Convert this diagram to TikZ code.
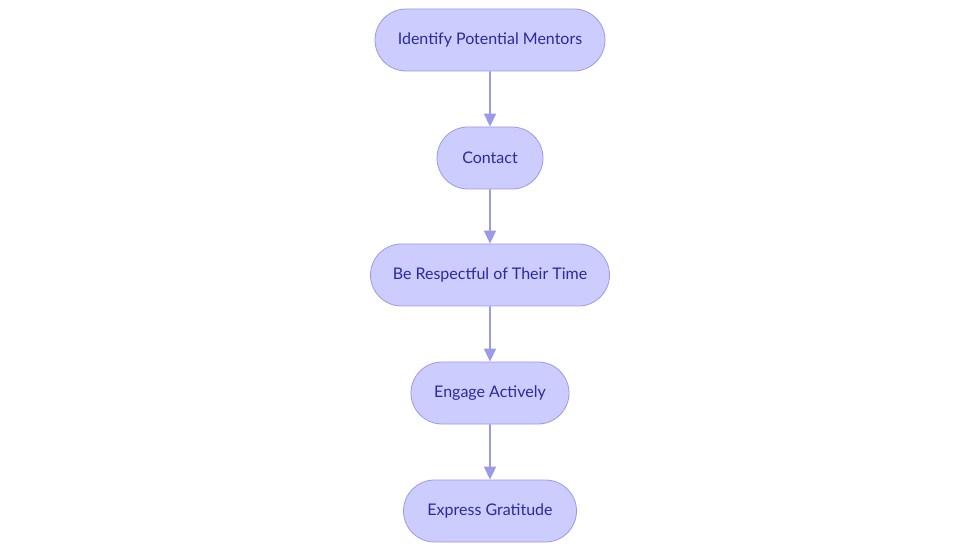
\documentclass[tikz,border=0pt]{standalone}
\usepackage{fontspec}
\setmainfont{Lato}
\usetikzlibrary{arrows.meta,shapes.misc}
\definecolor{nodefill}{HTML}{CCCCFF}
\definecolor{nodeedge}{HTML}{9A9AE8}
\definecolor{nodetext}{HTML}{2A2A9C}
\definecolor{linkcol}{HTML}{9A9AE8}
\tikzset{
  stadium/.style={rounded rectangle, draw=nodeedge, fill=nodefill, line width=0.8pt,
    minimum height=62pt, inner xsep=0pt, text=nodetext, font=\fontsize{16}{19}\selectfont},
  link/.style={draw=linkcol, line width=1.6pt, -{Triangle[width=12pt,length=13pt]}}
}
\begin{document}
\begin{tikzpicture}[x=1pt,y=-1pt]
\useasboundingbox (0,0) rectangle (980,553);
\node[stadium, minimum width=230pt] (a) at (490,40) {Identify Potential Mentors};
\node[stadium, minimum width=106pt] (b) at (490,158) {Contact};
\node[stadium, minimum width=239pt] (c) at (490,275) {Be Respectful of Their Time};
\node[stadium, minimum width=158pt] (d) at (490,393) {Engage Actively};
\node[stadium, minimum width=173pt] (e) at (490,511) {Express Gratitude};
\draw[link] (a) -- (b);
\draw[link] (b) -- (c);
\draw[link] (c) -- (d);
\draw[link] (d) -- (e);
\end{tikzpicture}
\end{document}
